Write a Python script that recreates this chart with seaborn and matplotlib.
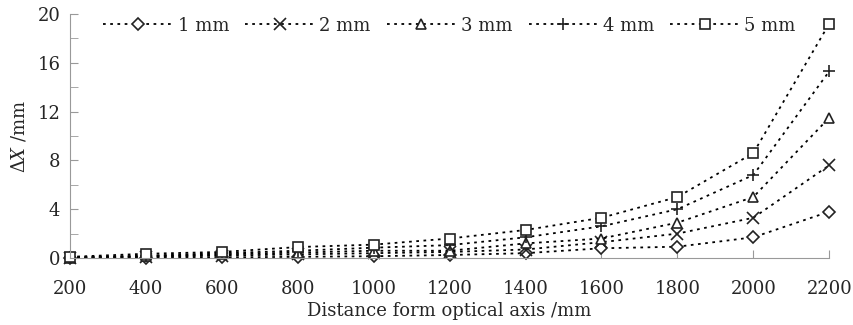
import matplotlib
matplotlib.use('Agg')
import matplotlib.pyplot as plt
from matplotlib.ticker import MultipleLocator
import pandas as pd
import seaborn as sns

# Data
distance = [200, 400, 600, 800, 1000, 1200, 1400, 1600, 1800, 2000, 2200]
dx_1mm = [0.0, 0.03, 0.05, 0.1, 0.15, 0.25, 0.4, 0.8, 0.93, 1.7, 3.8]
dx_2mm = [0.02, 0.1, 0.2, 0.3, 0.4, 0.5, 0.7, 1.3, 2.0, 3.3, 7.6]
dx_3mm = [0.03, 0.15, 0.3, 0.45, 0.6, 0.6, 1.2, 1.6, 2.9, 5.0, 11.5]
dx_4mm = [0.05, 0.2, 0.4, 0.6, 0.85, 1.06, 1.7, 2.6, 4.0, 6.8, 15.3]
dx_5mm = [0.1, 0.35, 0.5, 0.9, 1.1, 1.6, 2.3, 3.3, 5.0, 8.6, 19.2]
labels = ['1 mm', '2 mm', '3 mm', '4 mm', '5 mm']
series = [dx_1mm, dx_2mm, dx_3mm, dx_4mm, dx_5mm]
markers = ['D', 'x', '^', '+', 's']
msizes = [6, 8, 7.5, 9, 7.5]

sns.set_style('ticks')
plt.rcParams['font.family'] = ['DejaVu Serif']
plt.rcParams['mathtext.fontset'] = 'dejavuserif'

fig = plt.figure(figsize=(8.54, 3.25), dpi=100)
ax = fig.add_axes([0.082, 0.206, 0.889, 0.751])

for lab, vals, mk, ms in zip(labels, series, markers, msizes):
    df = pd.DataFrame({'distance': distance, 'dx': vals})
    sns.lineplot(data=df, x='distance', y='dx', ax=ax, label=lab,
                 color='black', linewidth=1.3, linestyle=(0, (1.5, 2.5)),
                 marker=mk, markersize=ms, markerfacecolor='white',
                 markeredgecolor='#222222', markeredgewidth=1.2,
                 clip_on=False)

ax.set_xlim(200, 2200)
ax.set_ylim(0, 20)
ax.xaxis.set_major_locator(MultipleLocator(200))
ax.yaxis.set_major_locator(MultipleLocator(4))
ax.yaxis.set_minor_locator(MultipleLocator(2))
ax.tick_params(axis='both', which='both', direction='in', length=6,
               color='#999999', labelsize=13)
ax.tick_params(axis='y', pad=7)
ax.tick_params(axis='x', pad=16)
for s in ['top', 'right']:
    ax.spines[s].set_visible(False)
for s in ['left', 'bottom']:
    ax.spines[s].set_color('#999999')

ax.set_xlabel('Distance form optical axis /mm', fontsize=13, labelpad=3)
ax.set_ylabel(r'$\Delta X$ /mm', fontsize=13, labelpad=6)

ax.legend(loc='upper center', bbox_to_anchor=(0.5, 1.055), ncol=5,
          frameon=False, fontsize=13, handlelength=3.8, columnspacing=0.9,
          handletextpad=0.3)

fig.savefig('out.png', dpi=100)
